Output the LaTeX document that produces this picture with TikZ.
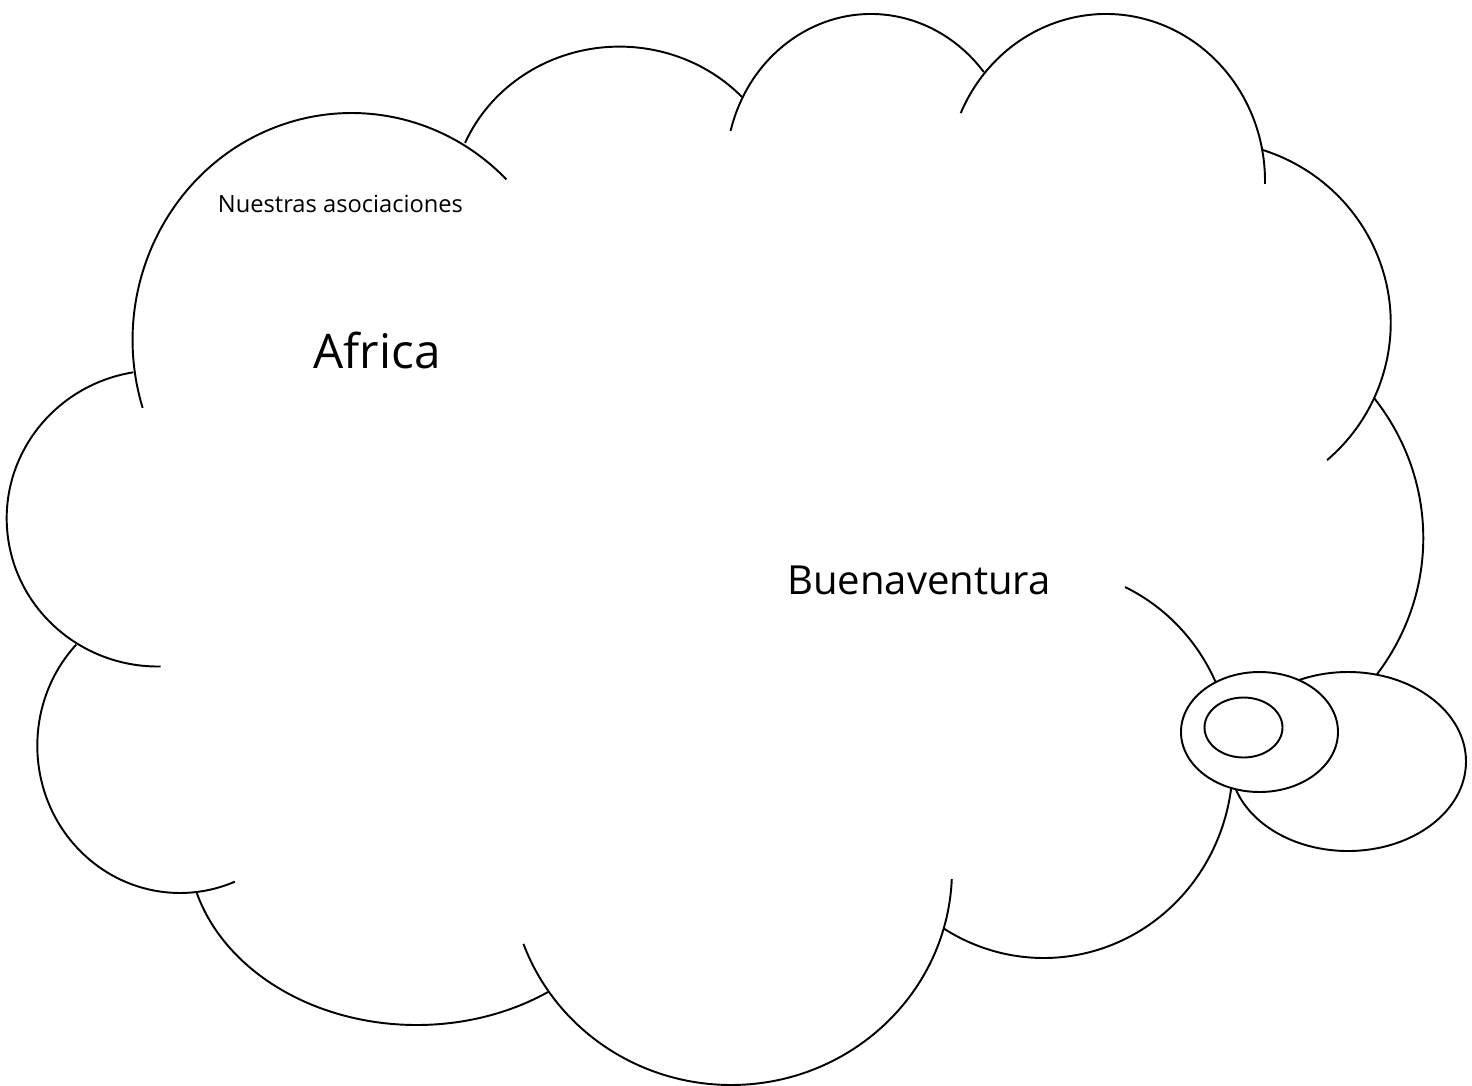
\documentclass[tikz,border=0pt]{standalone}
\usepackage{graphicx}
\usepackage{fontspec}
\setmainfont{Open Sans}
\newcommand\lobearc[6]{\draw[lobe] (#1,-#2) ++(#5:#3 and #4) arc[start angle=#5, end angle=#6, x radius=#3, y radius=#4];}
\begin{document}
\begin{tikzpicture}[x=0.02cm,y=0.02cm,
  lobe/.style={draw=black, line width=1.1pt, line join=round},
  txt/.style={inner sep=0pt, anchor=base, text=black}]
\useasboundingbox (0,0) rectangle (1472,-1086);
% cloud lobes
\lobearc{351.6}{340}{219}{227}{197.4}{45}
\lobearc{619.4}{206.4}{168.2}{159.8}{156.6}{43.2}
\lobearc{871}{170.7}{145.2}{156.7}{165.3}{39}
\lobearc{1106}{181}{159}{167}{156}{-1}
\lobearc{1205.7}{322.9}{185}{181.8}{72.4}{-49}
\lobearc{1173.3}{538}{250}{235}{36.5}{-37}
\lobearc{1043.7}{763}{189}{195}{64.5}{-122}
\lobearc{731}{870}{221}{215}{-2.4}{-159.9}
\lobearc{416.7}{843}{228.7}{182}{196}{305}
\lobearc{180}{745.7}{142.7}{147.3}{136.7}{292.6}
\lobearc{158}{518.4}{151.3}{148.1}{99.4}{271}
% small ellipses
\draw[lobe, fill=white] (1348,-761.5) ellipse[x radius=118, y radius=89.5];
\draw[lobe, fill=white] (1259.5,-732) ellipse[x radius=78.5, y radius=60];
\draw[lobe, fill=white] (1243.5,-727.5) ellipse[x radius=39, y radius=30];
% texts
\node[txt] (nuestras) at (340.5,-212) {\resizebox{139.5pt}{!}{Nuestras asociaciones}};
\node[txt] (africa) at (377,-368) {\resizebox{72.3pt}{!}{Africa}};
\node[txt] (buena) at (919,-594) {\resizebox{150pt}{!}{Buenaventura}};
\end{tikzpicture}
\end{document}
